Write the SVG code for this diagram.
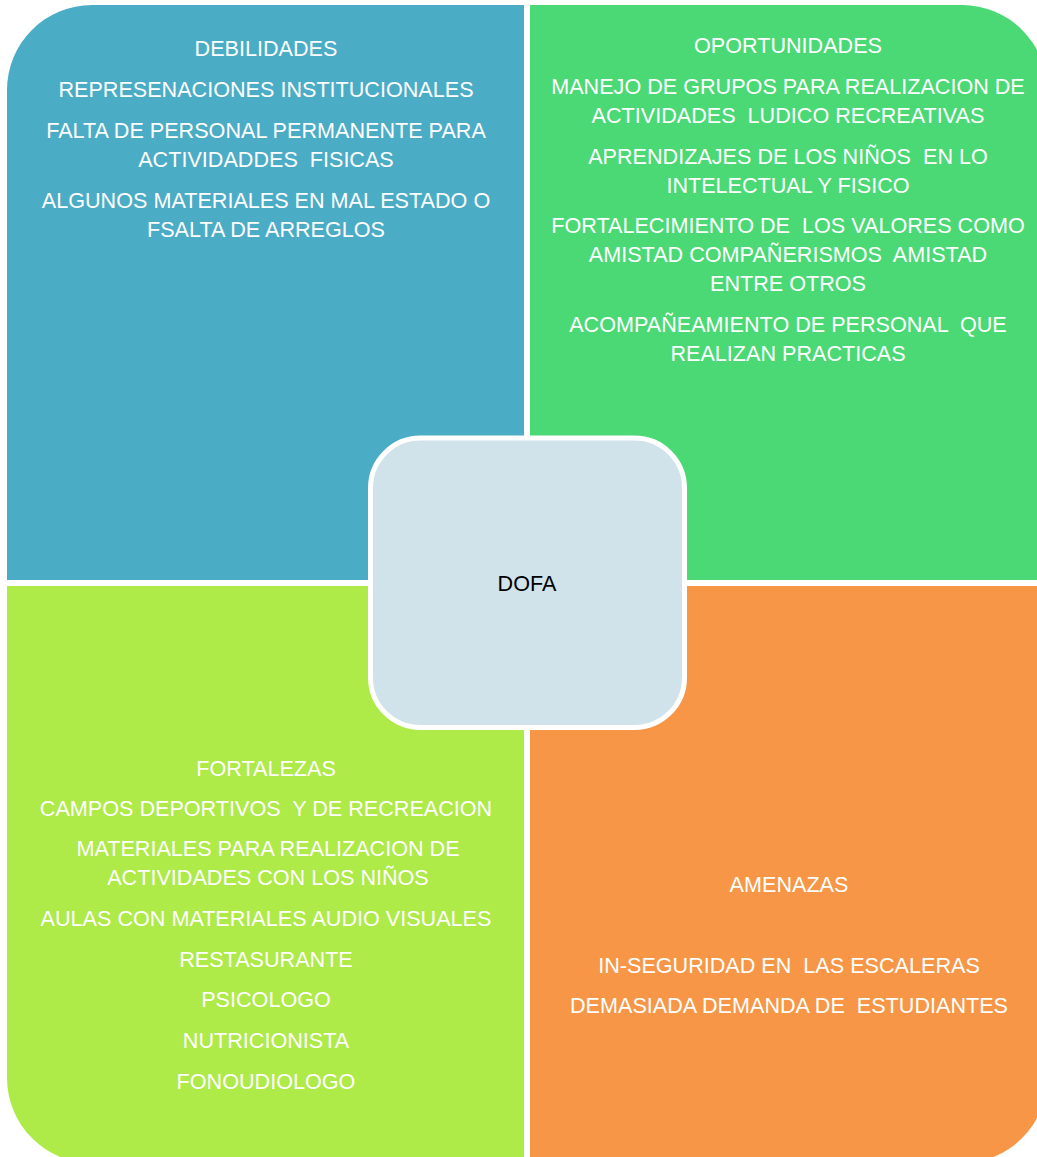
<svg xmlns="http://www.w3.org/2000/svg" width="1037" height="1157" viewBox="0 0 1037 1157">
<style>
.t{font-family:"Liberation Sans",Arial,sans-serif;font-size:21.6px;fill:#ffffff;text-anchor:middle}
.c{font-family:"Liberation Sans",Arial,sans-serif;font-size:21.6px;fill:#000000;text-anchor:middle}
</style>
<rect width="1037" height="1157" fill="#ffffff"/>
<g id="debilidades">
<path d="M7,90 A85,85 0 0 1 92,5 L524,5 L524,580 L7,580 Z" fill="#4BACC6"/>
<text class="t" x="266" y="56">DEBILIDADES</text>
<text class="t" x="266" y="97">REPRESENACIONES INSTITUCIONALES</text>
<text class="t" x="266" y="138">FALTA DE PERSONAL PERMANENTE PARA</text>
<text class="t" x="266" y="167" xml:space="preserve">ACTIVIDADDES  FISICAS</text>
<text class="t" x="266" y="208">ALGUNOS MATERIALES EN MAL ESTADO O</text>
<text class="t" x="266" y="237">FSALTA DE ARREGLOS</text>
</g>
<g id="oportunidades">
<path d="M530,5 L962,5 A85,85 0 0 1 1047,90 L1047,580 L530,580 Z" fill="#4AD975"/>
<text class="t" x="788" y="53">OPORTUNIDADES</text>
<text class="t" x="788" y="94">MANEJO DE GRUPOS PARA REALIZACION DE</text>
<text class="t" x="788" y="123" xml:space="preserve">ACTIVIDADES  LUDICO RECREATIVAS</text>
<text class="t" x="788" y="164" xml:space="preserve">APRENDIZAJES DE LOS NIÑOS  EN LO</text>
<text class="t" x="788" y="193">INTELECTUAL Y FISICO</text>
<text class="t" x="788" y="233" xml:space="preserve">FORTALECIMIENTO DE  LOS VALORES COMO</text>
<text class="t" x="788" y="262" xml:space="preserve">AMISTAD COMPAÑERISMOS  AMISTAD</text>
<text class="t" x="788" y="291">ENTRE OTROS</text>
<text class="t" x="788" y="332" xml:space="preserve">ACOMPAÑEAMIENTO DE PERSONAL  QUE</text>
<text class="t" x="788" y="361">REALIZAN PRACTICAS</text>
</g>
<g id="fortalezas">
<path d="M7,586 L524,586 L524,1163 L92,1163 A85,85 0 0 1 7,1078 Z" fill="#AEEA48"/>
<text class="t" x="266" y="776">FORTALEZAS</text>
<text class="t" x="266" y="816" xml:space="preserve">CAMPOS DEPORTIVOS  Y DE RECREACION</text>
<text class="t" x="268" y="856">MATERIALES PARA REALIZACION DE</text>
<text class="t" x="268" y="885">ACTIVIDADES CON LOS NIÑOS</text>
<text class="t" x="266" y="926">AULAS CON MATERIALES AUDIO VISUALES</text>
<text class="t" x="266" y="967">RESTASURANTE</text>
<text class="t" x="266" y="1007">PSICOLOGO</text>
<text class="t" x="266" y="1048">NUTRICIONISTA</text>
<text class="t" x="266" y="1089">FONOUDIOLOGO</text>
</g>
<g id="amenazas">
<path d="M530,586 L1047,586 L1047,1078 A85,85 0 0 1 962,1163 L530,1163 Z" fill="#F79646"/>
<text class="t" x="789" y="892">AMENAZAS</text>
<text class="t" x="789" y="973" xml:space="preserve">IN-SEGURIDAD EN  LAS ESCALERAS</text>
<text class="t" x="789" y="1013" xml:space="preserve">DEMASIADA DEMANDA DE  ESTUDIANTES</text>
</g>
<g id="connectors"></g>
<g id="dofa">
<rect x="370.5" y="438" width="314" height="289.5" rx="50" ry="50" fill="#D0E3EA" stroke="#ffffff" stroke-width="5"/>
<text class="c" x="527" y="591">DOFA</text>
</g>
</svg>
